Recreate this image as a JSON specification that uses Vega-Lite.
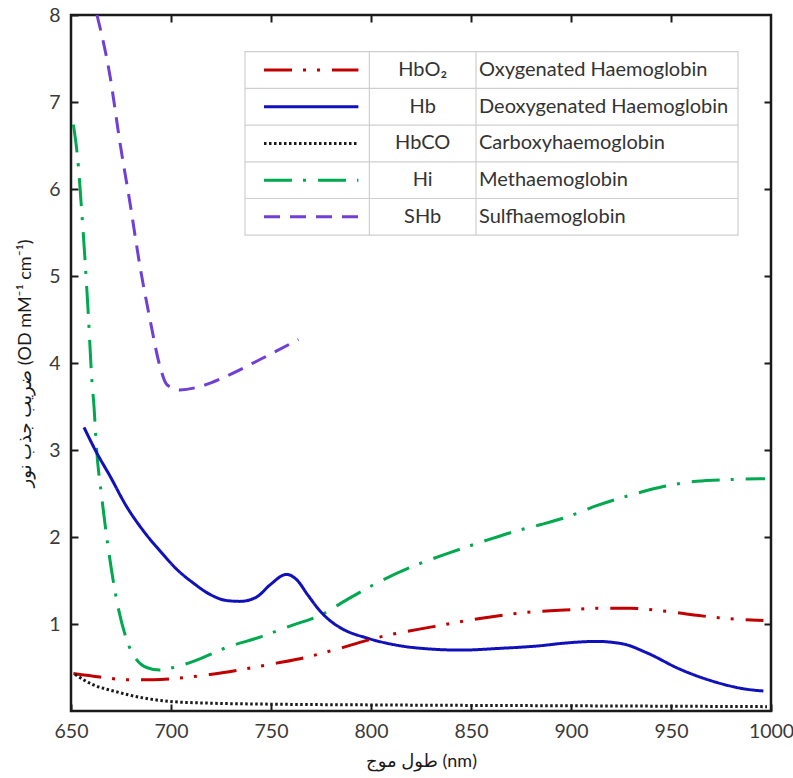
{
  "$schema": "https://vega.github.io/schema/vega-lite/v6.json",
  "width": 700,
  "height": 696,
  "autosize": {"type": "none"},
  "padding": {"left": 71, "top": 15, "right": 22, "bottom": 67},
  "background": "white",
  "config": {
    "font": "Lato, DejaVu Sans",
    "view": {"stroke": "#1a1a1a", "strokeWidth": 2.5},
    "axis": {
      "domain": false,
      "grid": false,
      "tickColor": "#1a1a1a",
      "tickWidth": 2,
      "tickSize": -7,
      "labelPadding": 18,
      "labelFont": "Lato",
      "labelFontSize": 19.5,
      "labelColor": "#3a3a3a",
      "labelFlush": false,
      "labelOverlap": false,
      "titleFont": "Lato, DejaVu Sans",
      "titleFontWeight": "normal",
      "titleFontSize": 18,
      "titleColor": "#1a1a1a"
    }
  },
  "datasets": {
    "curves": [
      {"s": "SHb", "wl": 663, "od": 8.0},
      {"s": "SHb", "wl": 669.5, "od": 7.3},
      {"s": "SHb", "wl": 674.5, "od": 6.53},
      {"s": "SHb", "wl": 679.5, "od": 5.84},
      {"s": "SHb", "wl": 684.5, "od": 5.11},
      {"s": "SHb", "wl": 689.5, "od": 4.5},
      {"s": "SHb", "wl": 694.5, "od": 3.96},
      {"s": "SHb", "wl": 698, "od": 3.75},
      {"s": "SHb", "wl": 704.5, "od": 3.69},
      {"s": "SHb", "wl": 714.5, "od": 3.73},
      {"s": "SHb", "wl": 727.8, "od": 3.85},
      {"s": "SHb", "wl": 744.5, "od": 4.04},
      {"s": "SHb", "wl": 763.7, "od": 4.27},

      {"s": "Hi", "wl": 651.2, "od": 6.74},
      {"s": "Hi", "wl": 653.7, "od": 6.26},
      {"s": "Hi", "wl": 655.3, "od": 5.76},
      {"s": "Hi", "wl": 657, "od": 5.19},
      {"s": "Hi", "wl": 658.7, "od": 4.54},
      {"s": "Hi", "wl": 660.3, "od": 3.85},
      {"s": "Hi", "wl": 661.5, "od": 3.5},
      {"s": "Hi", "wl": 662.8, "od": 3.01},
      {"s": "Hi", "wl": 665.3, "od": 2.47},
      {"s": "Hi", "wl": 668.7, "od": 1.86},
      {"s": "Hi", "wl": 672.8, "od": 1.28},
      {"s": "Hi", "wl": 677.8, "od": 0.82},
      {"s": "Hi", "wl": 682.8, "od": 0.59},
      {"s": "Hi", "wl": 687.8, "od": 0.5},
      {"s": "Hi", "wl": 694.5, "od": 0.47},
      {"s": "Hi", "wl": 701.2, "od": 0.5},
      {"s": "Hi", "wl": 711.2, "od": 0.57},
      {"s": "Hi", "wl": 727.8, "od": 0.73},
      {"s": "Hi", "wl": 744.5, "od": 0.85},
      {"s": "Hi", "wl": 761.2, "od": 0.99},
      {"s": "Hi", "wl": 774.5, "od": 1.1},
      {"s": "Hi", "wl": 789.5, "od": 1.3},
      {"s": "Hi", "wl": 806.2, "od": 1.51},
      {"s": "Hi", "wl": 822.8, "od": 1.68},
      {"s": "Hi", "wl": 839.5, "od": 1.82},
      {"s": "Hi", "wl": 856.2, "od": 1.95},
      {"s": "Hi", "wl": 872.8, "od": 2.07},
      {"s": "Hi", "wl": 884.5, "od": 2.14},
      {"s": "Hi", "wl": 896.7, "od": 2.22},
      {"s": "Hi", "wl": 912.8, "od": 2.36},
      {"s": "Hi", "wl": 929.5, "od": 2.48},
      {"s": "Hi", "wl": 946.2, "od": 2.58},
      {"s": "Hi", "wl": 962.8, "od": 2.64},
      {"s": "Hi", "wl": 979.5, "od": 2.66},
      {"s": "Hi", "wl": 997, "od": 2.67},

      {"s": "Hb", "wl": 656.5, "od": 3.26},
      {"s": "Hb", "wl": 662.8, "od": 2.97},
      {"s": "Hb", "wl": 669.5, "od": 2.7},
      {"s": "Hb", "wl": 677.8, "od": 2.35},
      {"s": "Hb", "wl": 686.2, "od": 2.07},
      {"s": "Hb", "wl": 694.5, "od": 1.84},
      {"s": "Hb", "wl": 702.8, "od": 1.63},
      {"s": "Hb", "wl": 711.2, "od": 1.47},
      {"s": "Hb", "wl": 719.5, "od": 1.34},
      {"s": "Hb", "wl": 727.8, "od": 1.27},
      {"s": "Hb", "wl": 734.5, "od": 1.26},
      {"s": "Hb", "wl": 742.8, "od": 1.31},
      {"s": "Hb", "wl": 749.5, "od": 1.45},
      {"s": "Hb", "wl": 757.8, "od": 1.57},
      {"s": "Hb", "wl": 762.8, "od": 1.51},
      {"s": "Hb", "wl": 768.5, "od": 1.33},
      {"s": "Hb", "wl": 774.5, "od": 1.15},
      {"s": "Hb", "wl": 780, "od": 1.03},
      {"s": "Hb", "wl": 786, "od": 0.94},
      {"s": "Hb", "wl": 797.8, "od": 0.84},
      {"s": "Hb", "wl": 814.5, "od": 0.75},
      {"s": "Hb", "wl": 831.2, "od": 0.71},
      {"s": "Hb", "wl": 844.5, "od": 0.7},
      {"s": "Hb", "wl": 864.5, "od": 0.72},
      {"s": "Hb", "wl": 884.5, "od": 0.75},
      {"s": "Hb", "wl": 896.7, "od": 0.78},
      {"s": "Hb", "wl": 912.8, "od": 0.8},
      {"s": "Hb", "wl": 926.2, "od": 0.77},
      {"s": "Hb", "wl": 937.8, "od": 0.67},
      {"s": "Hb", "wl": 954.5, "od": 0.48},
      {"s": "Hb", "wl": 971.2, "od": 0.34},
      {"s": "Hb", "wl": 987.8, "od": 0.25},
      {"s": "Hb", "wl": 996.2, "od": 0.23},

      {"s": "HbO2", "wl": 651.2, "od": 0.43},
      {"s": "HbO2", "wl": 664.5, "od": 0.39},
      {"s": "HbO2", "wl": 677.8, "od": 0.36},
      {"s": "HbO2", "wl": 691.2, "od": 0.36},
      {"s": "HbO2", "wl": 704.5, "od": 0.38},
      {"s": "HbO2", "wl": 719.5, "od": 0.42},
      {"s": "HbO2", "wl": 736.2, "od": 0.48},
      {"s": "HbO2", "wl": 752.8, "od": 0.55},
      {"s": "HbO2", "wl": 764.5, "od": 0.6},
      {"s": "HbO2", "wl": 781.2, "od": 0.7},
      {"s": "HbO2", "wl": 806.2, "od": 0.86},
      {"s": "HbO2", "wl": 831.2, "od": 0.97},
      {"s": "HbO2", "wl": 856.2, "od": 1.07},
      {"s": "HbO2", "wl": 881.2, "od": 1.14},
      {"s": "HbO2", "wl": 896.7, "od": 1.16},
      {"s": "HbO2", "wl": 912.8, "od": 1.18},
      {"s": "HbO2", "wl": 929.5, "od": 1.18},
      {"s": "HbO2", "wl": 946.2, "od": 1.15},
      {"s": "HbO2", "wl": 962.8, "od": 1.1},
      {"s": "HbO2", "wl": 979.5, "od": 1.06},
      {"s": "HbO2", "wl": 996.2, "od": 1.04},

      {"s": "HbCO", "wl": 652, "od": 0.42},
      {"s": "HbCO", "wl": 661.2, "od": 0.3},
      {"s": "HbCO", "wl": 671.2, "od": 0.23},
      {"s": "HbCO", "wl": 686.2, "od": 0.15},
      {"s": "HbCO", "wl": 699.5, "od": 0.11},
      {"s": "HbCO", "wl": 719.5, "od": 0.09},
      {"s": "HbCO", "wl": 744.5, "od": 0.08},
      {"s": "HbCO", "wl": 800, "od": 0.07},
      {"s": "HbCO", "wl": 900, "od": 0.06},
      {"s": "HbCO", "wl": 998, "od": 0.05}
    ],
    "legend": [
      {"s": "HbO2", "code": "HbO₂", "name": "Oxygenated Haemoglobin"},
      {"s": "Hb", "code": "Hb", "name": "Deoxygenated Haemoglobin"},
      {"s": "HbCO", "code": "HbCO", "name": "Carboxyhaemoglobin"},
      {"s": "Hi", "code": "Hi", "name": "Methaemoglobin"},
      {"s": "SHb", "code": "SHb", "name": "Sulfhaemoglobin"}
    ]
  },
  "layer": [
    {
      "data": {"name": "curves"},
      "layer": [
        {
          "mark": {"type": "line", "strokeWidth": 3, "interpolate": "monotone", "strokeCap": "butt"},
          "encoding": {
            "x": {
              "field": "wl", "type": "quantitative",
              "scale": {"domain": [650, 1000], "nice": false, "zero": false},
              "axis": {"orient": "bottom", "values": [650, 700, 750, 800, 850, 900, 950, 1000], "format": "d", "title": "طول موج  (nm)", "titlePadding": 12}
            },
            "y": {
              "field": "od", "type": "quantitative",
              "scale": {"domain": [0, 8], "nice": false, "zero": false},
              "axis": {"orient": "left", "values": [1, 2, 3, 4, 5, 6, 7, 8], "format": "d", "title": "ضریب جذب نور (OD mM⁻¹ cm⁻¹)", "titlePadding": 14}
            },
            "color": {
              "field": "s", "type": "nominal", "legend": null,
              "scale": {"domain": ["HbO2", "Hb", "HbCO", "Hi", "SHb"], "range": ["#C00000", "#1111BB", "#1a1a1a", "#00A84F", "#6F3FD6"]}
            },
            "strokeDash": {
              "field": "s", "type": "nominal", "legend": null,
              "scale": {"domain": ["HbO2", "Hb", "HbCO", "Hi", "SHb"], "range": [[28, 11, 3, 11, 3, 12], [1, 0], [2.5, 2.5], [28, 11, 3, 12], [16, 10]]}
            }
          }
        },
        {
          "mark": {"type": "line", "opacity": 0},
          "encoding": {
            "x": {
              "field": "wl", "type": "quantitative",
              "scale": {"domain": [650, 1000], "nice": false, "zero": false},
              "axis": {"orient": "top", "values": [700, 750, 800, 850, 900, 950], "labels": false, "title": null}
            },
            "y": {
              "field": "od", "type": "quantitative",
              "scale": {"domain": [0, 8], "nice": false, "zero": false},
              "axis": {"orient": "right", "values": [1, 2, 3, 4, 5, 6, 7], "labels": false, "title": null}
            },
            "detail": {"field": "s", "type": "nominal"}
          }
        }
      ],
      "resolve": {"axis": {"x": "independent", "y": "independent"}}
    },
    {
      "layer": [
        {
          "data": {"values": [{}]},
          "mark": {"type": "rect", "fill": "white", "stroke": "#cfcfcf", "strokeWidth": 1.2},
          "encoding": {
            "x": {"datum": 737, "type": "quantitative", "scale": {"domain": [650, 1000], "nice": false, "zero": false}, "axis": null},
            "x2": {"datum": 983.5},
            "y": {"datum": 0.5, "type": "quantitative", "scale": {"domain": [-0.5, 18.465], "reverse": true, "nice": false, "zero": false}, "axis": null},
            "y2": {"datum": 5.5}
          }
        },
        {
          "data": {"values": [{}]},
          "mark": {"type": "rule", "stroke": "#cfcfcf", "strokeWidth": 1.2},
          "encoding": {
            "x": {"datum": 799.2, "type": "quantitative", "scale": {"domain": [650, 1000], "nice": false, "zero": false}, "axis": null},
            "y": {"datum": 0.5, "type": "quantitative", "scale": {"domain": [-0.5, 18.465], "reverse": true, "nice": false, "zero": false}, "axis": null},
            "y2": {"datum": 5.5}
          }
        },
        {
          "data": {"values": [{}]},
          "mark": {"type": "rule", "stroke": "#cfcfcf", "strokeWidth": 1.2},
          "encoding": {
            "x": {"datum": 852.5, "type": "quantitative", "scale": {"domain": [650, 1000], "nice": false, "zero": false}, "axis": null},
            "y": {"datum": 0.5, "type": "quantitative", "scale": {"domain": [-0.5, 18.465], "reverse": true, "nice": false, "zero": false}, "axis": null},
            "y2": {"datum": 5.5}
          }
        },
        {
          "data": {"name": "legend"},
          "transform": [{"window": [{"op": "row_number", "as": "rank"}]}, {"filter": "datum.rank > 1"}],
          "mark": {"type": "rule", "stroke": "#cfcfcf", "strokeWidth": 1.2, "yOffset": -18.35},
          "encoding": {
            "x": {"datum": 737, "type": "quantitative", "scale": {"domain": [650, 1000], "nice": false, "zero": false}, "axis": null},
            "x2": {"datum": 983.5},
            "y": {"field": "rank", "type": "quantitative", "scale": {"domain": [-0.5, 18.465], "reverse": true, "nice": false, "zero": false}, "axis": null}
          }
        },
        {
          "data": {"name": "legend"},
          "transform": [{"window": [{"op": "row_number", "as": "rank"}]}],
          "mark": {"type": "rule", "strokeWidth": 3, "strokeCap": "butt"},
          "encoding": {
            "x": {"datum": 746.5, "type": "quantitative", "scale": {"domain": [650, 1000], "nice": false, "zero": false}, "axis": null},
            "x2": {"datum": 793.7},
            "y": {"field": "rank", "type": "quantitative", "scale": {"domain": [-0.5, 18.465], "reverse": true, "nice": false, "zero": false}, "axis": null},
            "color": {"field": "s", "type": "nominal", "legend": null},
            "strokeDash": {"field": "s", "type": "nominal", "legend": null}
          }
        },
        {
          "data": {"name": "legend"},
          "transform": [{"window": [{"op": "row_number", "as": "rank"}]}],
          "mark": {"type": "text", "align": "center", "baseline": "middle", "font": "Lato", "fontSize": 20, "fill": "#333333"},
          "encoding": {
            "x": {"datum": 825.85, "type": "quantitative", "scale": {"domain": [650, 1000], "nice": false, "zero": false}, "axis": null},
            "y": {"field": "rank", "type": "quantitative", "scale": {"domain": [-0.5, 18.465], "reverse": true, "nice": false, "zero": false}, "axis": null},
            "text": {"field": "code"}
          }
        },
        {
          "data": {"name": "legend"},
          "transform": [{"window": [{"op": "row_number", "as": "rank"}]}],
          "mark": {"type": "text", "align": "left", "baseline": "middle", "dx": 3, "font": "Lato", "fontSize": 20, "fill": "#333333"},
          "encoding": {
            "x": {"datum": 852.5, "type": "quantitative", "scale": {"domain": [650, 1000], "nice": false, "zero": false}, "axis": null},
            "y": {"field": "rank", "type": "quantitative", "scale": {"domain": [-0.5, 18.465], "reverse": true, "nice": false, "zero": false}, "axis": null},
            "text": {"field": "name"}
          }
        }
      ]
    }
  ],
  "resolve": {"scale": {"y": "independent"}, "axis": {"x": "independent", "y": "independent"}}
}
